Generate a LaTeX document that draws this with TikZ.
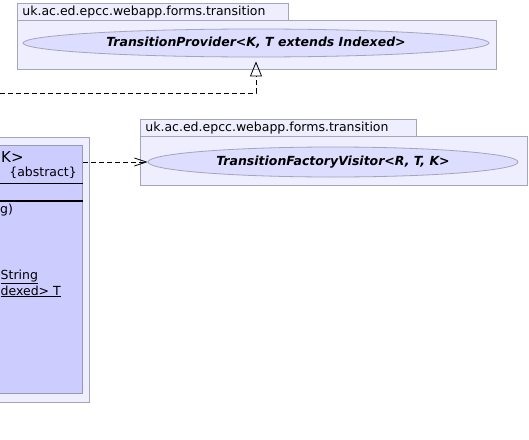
\documentclass[tikz,border=0pt]{standalone}
\usepackage{fontspec}
\setmainfont{DejaVu Sans}
\usepackage{xcolor}
\usepackage{tikz}
\usetikzlibrary{arrows.meta,positioning,shapes.geometric}
\definecolor{PkgFill}{HTML}{EEEEFF}
\definecolor{PkgLine}{HTML}{A4A4BA}
\definecolor{IfaceFill}{HTML}{DDDDFF}
\definecolor{ClassFill}{HTML}{CCCCFF}
\definecolor{ClassLine}{HTML}{9898BC}
\newcommand{\umlfont}{\fontsize{12.5}{15}\selectfont}
\newcommand{\umltitlefont}{\fontsize{15}{18}\selectfont}
\tikzset{
  pkgtab/.style={
    draw=PkgLine,
    fill=PkgFill,
    line width=0.8pt,
    anchor=north west,
    align=left,
    font=\umlfont,
    minimum height=17pt,
    inner xsep=5pt,
    inner ysep=0pt
  },
  pkgbody/.style={
    draw=PkgLine,
    fill=PkgFill,
    line width=0.8pt,
    anchor=north west,
    inner sep=0pt
  },
  iface/.style={
    ellipse,
    draw=PkgLine,
    fill=IfaceFill,
    line width=0.8pt,
    inner sep=0pt,
    font=\umlfont\bfseries\itshape
  },
  member/.style={inner sep=0pt, font=\umlfont},
  realize/.style={-{Triangle[open, length=15pt, width=12pt]}, line width=0.8pt, dash pattern=on 5pt off 3pt},
  depend/.style={-{Straight Barb[length=12pt, width=8pt]}, line width=0.8pt, dash pattern=on 5pt off 3pt}
}

\begin{document}
\begin{tikzpicture}[x=1pt, y=-1pt]
\useasboundingbox (0,0) rectangle (529,439);
\clip (0,0) rectangle (529,439);
% package of TransitionProvider
\node[pkgtab, text width=261pt] (provtab) at (17,3) {uk.ac.ed.epcc.webapp.forms.transition};
\node[pkgbody, minimum width=479pt, minimum height=49pt] (provpkg) at (17,20) {};
\node[iface, minimum width=466pt, minimum height=28pt] (provider) at (256,43) {TransitionProvider<K, T extends Indexed>};
% package of TransitionFactoryVisitor
\node[pkgtab, text width=266pt] (vistab) at (140,119) {uk.ac.ed.epcc.webapp.forms.transition};
\node[pkgbody, minimum width=387pt, minimum height=49pt] (vispkg) at (140,136) {};
\node[iface, minimum width=370pt, minimum height=30pt] (visitor) at (333,162) {TransitionFactoryVisitor<R, T, K>};
% the abstract class, cut at the left edge
\node[pkgbody, anchor=north east, minimum width=110pt, minimum height=265pt] (factorypkg) at (90,137) {};
\node[draw=ClassLine, fill=ClassFill, line width=0.8pt, anchor=north east, minimum width=100pt, minimum height=248pt] (factory) at (83,145) {};
\node[member, font=\umltitlefont, anchor=base west] (ftitle) at (1,162) {K>};
\node[member, anchor=base east] (fabstract) at (77,176) {\{abstract\}};
\draw (factory.west |- 0,183) -- (factory.east |- 0,183);
\draw[line width=1.6pt] (factory.west |- 0,201) -- (factory.east |- 0,201);
\node[member, anchor=base west] (fop) at (0,213) {g)};
\node[member, anchor=base west] (fstr) at (0.5,279) {\underline{String}};
\node[member, anchor=base east] (fget) at (61,295) {\underline{dexed> T}};
% factory -> TransitionProvider
\coordinate (implend) at (0,93);
\draw[realize, shorten >=4pt] (implend) -| (provider.south);
% factory -> TransitionFactoryVisitor
\draw[depend] (visitor.west -| factory.east) -- (visitor.west);
\end{tikzpicture}
\end{document}
